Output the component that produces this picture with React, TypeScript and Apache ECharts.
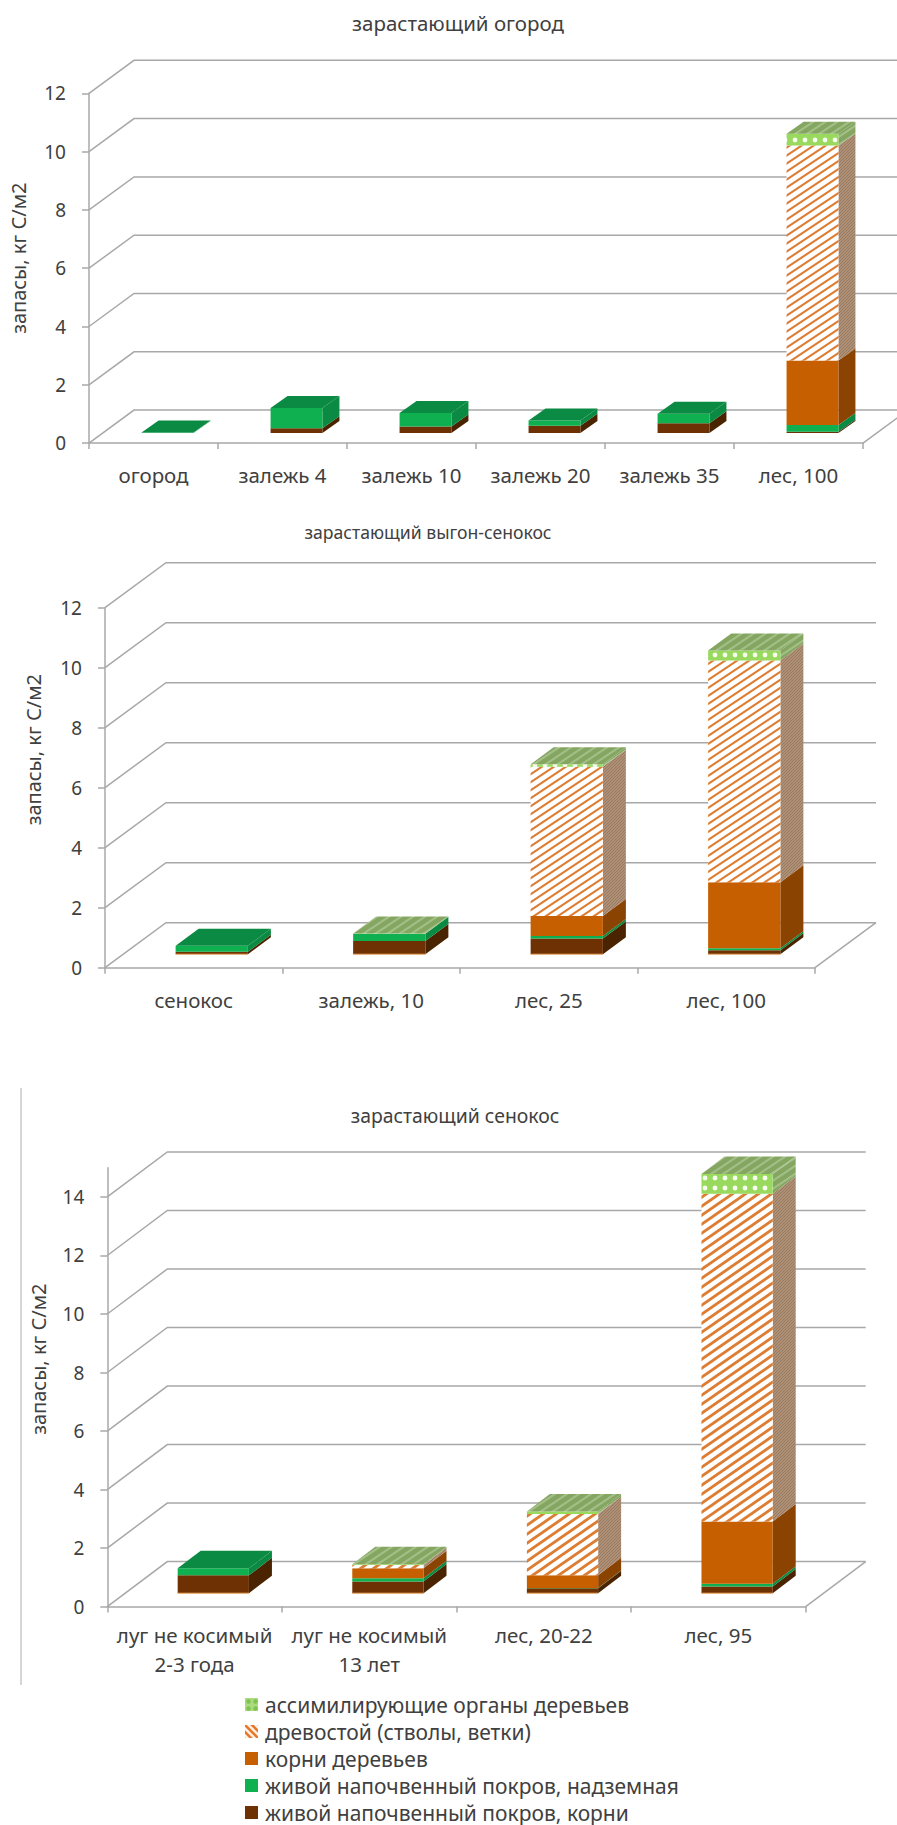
import React, { useEffect, useRef } from "react";
import * as echarts from "echarts";

// Carbon stocks, kg C/m2, by succession stage; layers listed from the ground up.
const gardenCategories = ["огород", "залежь 4", "залежь 10", "залежь 20", "залежь 35", "лес, 100"];
const gardenCoverRoots = [0, 0.17, 0.23, 0.25, 0.34, 0.05];
const gardenCoverAbove = [0.02, 0.69, 0.46, 0.18, 0.32, 0.23];
const gardenTreeRoots = [0, 0, 0, 0, 0, 2.21];
const gardenWood = [0, 0, 0, 0, 0, 7.38];
const gardenLeaves = [0, 0, 0, 0, 0, 0.4];
const gardenTicks = [0, 2, 4, 6, 8, 10, 12];

const pastureCategories = ["сенокос", "залежь, 10", "лес, 25", "лес, 100"];
const pastureCoverRoots = [0.08, 0.44, 0.52, 0.13];
const pastureCoverAbove = [0.2, 0.24, 0.09, 0.07];
const pastureTreeRoots = [0, 0, 0.66, 2.2];
const pastureWood = [0, 0, 4.98, 7.39];
const pastureLeaves = [0, 0.01, 0.08, 0.33];
const pastureTicks = [0, 2, 4, 6, 8, 10, 12];

const meadowCategories = ["луг не косимый\n2-3 года", "луг не косимый\n13 лет", "лес, 20-22", "лес, 95"];
const meadowCoverRoots = [0.61, 0.4, 0.17, 0.23];
const meadowCoverAbove = [0.24, 0.11, 0.01, 0.09];
const meadowTreeRoots = [0, 0.34, 0.43, 2.13];
const meadowWood = [0, 0.11, 2.1, 11.2];
const meadowLeaves = [0, 0.03, 0.08, 0.68];
const meadowTicks = [0, 2, 4, 6, 8, 10, 12, 14];

const layerNames = [
  "живой напочвенный покров, корни",
  "живой напочвенный покров, надземная",
  "корни деревьев",
  "древостой (стволы, ветки)",
  "ассимилирующие органы деревьев",
];
const chartTitles = ["зарастающий огород", "зарастающий выгон-сенокос", "зарастающий сенокос"];
const axisTitle = "запасы, кг С/м2";

const FONT = '"Noto Sans", sans-serif';
const TEXT = "#404040";
const LINE = "#a8a8a8";

function tile(w: number, h: number, paint: (c: CanvasRenderingContext2D) => void) {
  const canvas = document.createElement("canvas");
  canvas.width = w;
  canvas.height = h;
  paint(canvas.getContext("2d") as CanvasRenderingContext2D);
  return { image: canvas, repeat: "repeat" };
}

function stripes(w: number, h: number, back: string, ink: string, thick: number, flip = false) {
  return tile(w, h, (c) => {
    c.fillStyle = back;
    c.fillRect(0, 0, w, h);
    c.strokeStyle = ink;
    c.lineWidth = thick;
    // Long strokes so each stripe runs through the tile corners without a seam.
    for (const s of [-w, 0, w]) {
      c.beginPath();
      c.moveTo(s - w, flip ? -h : 2 * h);
      c.lineTo(s + 2 * w, flip ? 2 * h : -h);
      c.stroke();
    }
  });
}

function dots(w: number, h: number, back: string, ink: string, r: number, rowY = h / 2) {
  return tile(w, h, (c) => {
    c.fillStyle = back;
    c.fillRect(0, 0, w, h);
    c.fillStyle = ink;
    for (const y of [rowY - h, rowY, rowY + h]) {
      c.beginPath();
      c.arc(w / 2, y, r, 0, Math.PI * 2);
      c.fill();
    }
  });
}

function buildOption() {
  const woodSide = stripes(3, 3, "#ae9078", "#9a7a5c", 1);
  const canopy = stripes(12, 8, "#84a661", "#a3bf88", 2.2);
  const woodFront = stripes(12, 8, "#ffffff", "#dc7d33", 2.1);
  const woodFrontWide = stripes(13, 9, "#ffffff", "#dc7d33", 2.8);

  const faces = (wood: any, leaf: any) => [
    { front: "#6e3103", side: "#4a2300", top: "#4a2300" },
    { front: "#0fb050", side: "#0a8a42", top: "#0a8a42" },
    { front: "#c65f00", side: "#8a4300", top: "#8a4300" },
    { front: wood, side: woodSide, top: canopy },
    { front: leaf, side: canopy, top: canopy },
  ];

  const views = [
    {
      categories: gardenCategories,
      layers: [gardenCoverRoots, gardenCoverAbove, gardenTreeRoots, gardenWood, gardenLeaves],
      ticks: gardenTicks,
      max: 12,
      box: { left: 83, top: 93.3, width: 780, height: 349.8 },
      wall: [45, 33],
      bar: { shiftX: 14, shiftY: 10, ratio: 0.402, dx: 17, dy: 12 },
      title: [458, 23],
      titleSize: 20.5,
      nameGap: 61,
      namePad: 20,
      wood: woodFront,
      leaf: dots(10, 10, "#98d95e", "#f6fcee", 2.4, 0),
      labelMargin: 17,
      rim: false,
    },
    {
      categories: pastureCategories,
      layers: [pastureCoverRoots, pastureCoverAbove, pastureTreeRoots, pastureWood, pastureLeaves],
      ticks: pastureTicks,
      max: 12,
      box: { left: 105, top: 607.7, width: 710, height: 360 },
      wall: [61, 45],
      bar: { shiftX: 18, shiftY: 13.5, ratio: 0.407, dx: 23, dy: 17 },
      title: [428, 532],
      titleSize: 17.6,
      nameGap: 62,
      namePad: 76,
      wood: woodFront,
      leaf: dots(10, 10, "#98d95e", "#f6fcee", 2.4, 5),
      labelMargin: 18,
      rim: true,
    },
    {
      categories: meadowCategories,
      layers: [meadowCoverRoots, meadowCoverAbove, meadowTreeRoots, meadowWood, meadowLeaves],
      ticks: meadowTicks,
      max: 15,
      box: { left: 107.3, top: 1167.7, width: 698.4, height: 438.9 },
      wall: [60, 45],
      bar: { shiftX: 18.7, shiftY: 13.4, ratio: 0.408, dx: 23, dy: 17.5 },
      title: [455, 1115],
      titleSize: 19.4,
      nameGap: 59,
      namePad: 56,
      wood: woodFrontWide,
      leaf: dots(10, 10, "#98d95e", "#f6fcee", 2.4, 8),
      labelMargin: 14,
      rim: true,
    },
  ];

  const series: any[] = [];
  views.forEach((view, i) => {
    const [wallX, wallY] = view.wall;
    // Back-wall and left-wall gridlines, one polyline per axis tick.
    series.push({
      type: "custom",
      xAxisIndex: i,
      yAxisIndex: i,
      silent: true,
      z: 1,
      data: view.ticks.map((t) => [0, t]),
      encode: { x: 0, y: 1 },
      renderItem: (params: any, api: any) => {
        const box = params.coordSys;
        const y = api.coord([0, api.value(1)])[1];
        const right = box.x + box.width;
        const children: any[] = [
          {
            type: "polyline",
            shape: { points: [[box.x, y], [box.x + wallX, y - wallY], [right + wallX, y - wallY]] },
            style: { stroke: LINE, lineWidth: 1.5, fill: "none" },
          },
        ];
        if (api.value(1) === 0) {
          children.push({
            type: "line",
            shape: { x1: right, y1: y, x2: right + wallX, y2: y - wallY },
            style: { stroke: LINE, lineWidth: 1.5 },
          });
        }
        return { type: "group", children };
      },
    });

    // Stacked 3D columns: every layer draws its own front and side, the uppermost also the lid.
    const look = faces(view.wood, view.leaf);
    const { shiftX, shiftY, ratio, dx, dy } = view.bar;
    view.layers.forEach((values, l) => {
      const data = values.map((v, c) => {
        const base = view.layers.slice(0, l).reduce((s, a) => s + a[c], 0);
        const above = view.layers.slice(l + 1).reduce((s, a) => s + a[c], 0);
        return [c, base, base + v, above === 0 && v > 0 ? 1 : 0];
      });
      const face = look[l];
      series.push({
        type: "custom",
        name: layerNames[l],
        xAxisIndex: i,
        yAxisIndex: i,
        silent: true,
        z: 2 + l,
        itemStyle: { color: typeof face.front === "string" ? face.front : "#d9772b" },
        data,
        encode: { x: 0, y: 2 },
        renderItem: (_: any, api: any) => {
          if (api.value(2) <= api.value(1)) return { type: "group", children: [] };
          const width = api.size([1, 0])[0] * ratio;
          const x0 = api.coord([api.value(0), 0])[0] + shiftX - width / 2;
          const x1 = x0 + width;
          const y0 = api.coord([0, api.value(1)])[1] - shiftY;
          const y1 = api.coord([0, api.value(2)])[1] - shiftY;
          const children: any[] = [
            {
              type: "polygon",
              shape: { points: [[x1, y0], [x1 + dx, y0 - dy], [x1 + dx, y1 - dy], [x1, y1]] },
              style: { fill: face.side },
            },
            {
              type: "polygon",
              shape: { points: [[x0, y0], [x1, y0], [x1, y1], [x0, y1]] },
              style: { fill: face.front },
            },
          ];
          if (api.value(3)) {
            children.push({
              type: "polygon",
              shape: { points: [[x0, y1], [x1, y1], [x1 + dx, y1 - dy], [x0 + dx, y1 - dy]] },
              style: { fill: face.top },
            });
          }
          if (view.rim && api.value(1) === 0) {
            children.push({
              type: "line",
              shape: { x1: x0, y1: y0, x2: x1, y2: y0 },
              style: { stroke: "#eda55f", lineWidth: 1 },
            });
          }
          return { type: "group", children };
        },
      });
    });
  });

  const legendFill: any[] = [
    dots(7, 7, "#a9dc7c", "#7fc24f", 2.2),
    stripes(7, 7, "#fff3e6", "#e8762a", 2.6, true),
    "#c65f00",
    "#0fb050",
    "#6e3103",
  ];

  return {
    animation: false,
    backgroundColor: "#ffffff",
    textStyle: { fontFamily: FONT },
    title: views.map((v, i) => ({
      text: chartTitles[i],
      left: v.title[0],
      top: v.title[1],
      textAlign: "center",
      textVerticalAlign: "middle",
      padding: 0,
      textStyle: { fontFamily: FONT, fontSize: v.titleSize, fontWeight: "normal", color: TEXT },
    })),
    grid: views.map((v) => ({ ...v.box })),
    xAxis: views.map((v, i) => ({
      type: "category",
      gridIndex: i,
      data: v.categories,
      axisLine: { show: true, lineStyle: { color: LINE, width: 1.5 } },
      axisTick: { show: true, length: 6, lineStyle: { color: LINE, width: 1.5 } },
      axisLabel: {
        interval: 0,
        hideOverlap: false,
        margin: v.labelMargin,
        fontFamily: FONT,
        fontSize: 20.5,
        lineHeight: 29,
        color: TEXT,
      },
    })),
    yAxis: views.map((v, i) => ({
      type: "value",
      gridIndex: i,
      min: 0,
      max: v.max,
      interval: 2,
      name: axisTitle,
      nameLocation: "middle",
      nameGap: v.nameGap,
      nameRotate: 90,
      nameTextStyle: { fontFamily: FONT, fontSize: 20, color: TEXT, padding: [0, 0, 0, v.namePad] },
      splitLine: { show: false },
      axisLine: { show: true, lineStyle: { color: LINE, width: 1.5 } },
      axisTick: { show: true, length: 7, customValues: v.ticks, lineStyle: { color: LINE, width: 1.5 } },
      axisLabel: { margin: 23, customValues: v.ticks, fontFamily: FONT, fontSize: 19, color: TEXT },
    })),
    legend: {
      orient: "vertical",
      left: 245,
      top: 1693,
      height: 132,
      padding: 0,
      selectedMode: false,
      itemWidth: 13,
      itemHeight: 13,
      itemGap: 4,
      textStyle: { fontFamily: FONT, fontSize: 21, color: TEXT, lineHeight: 23, padding: [0, 0, 0, 2] },
      data: [4, 3, 2, 1, 0].map((l) => ({
        name: layerNames[l],
        icon: "rect",
        itemStyle: { color: legendFill[4 - l] },
      })),
    },
    graphic: [
      {
        type: "line",
        silent: true,
        shape: { x1: 21, y1: 1088, x2: 21, y2: 1685 },
        style: { stroke: "#c8c8c8", lineWidth: 1.5 },
      },
    ],
    series,
  };
}

export default function App() {
  const host = useRef<HTMLDivElement>(null);

  useEffect(() => {
    document.body.style.margin = "0";
    const chart = echarts.init(host.current as HTMLDivElement, undefined, { renderer: "svg" });
    chart.setOption(buildOption() as any);
    return () => chart.dispose();
  }, []);

  return <div ref={host} style={{ position: "absolute", left: 0, top: 0, width: 897, height: 1825 }} />;
}
